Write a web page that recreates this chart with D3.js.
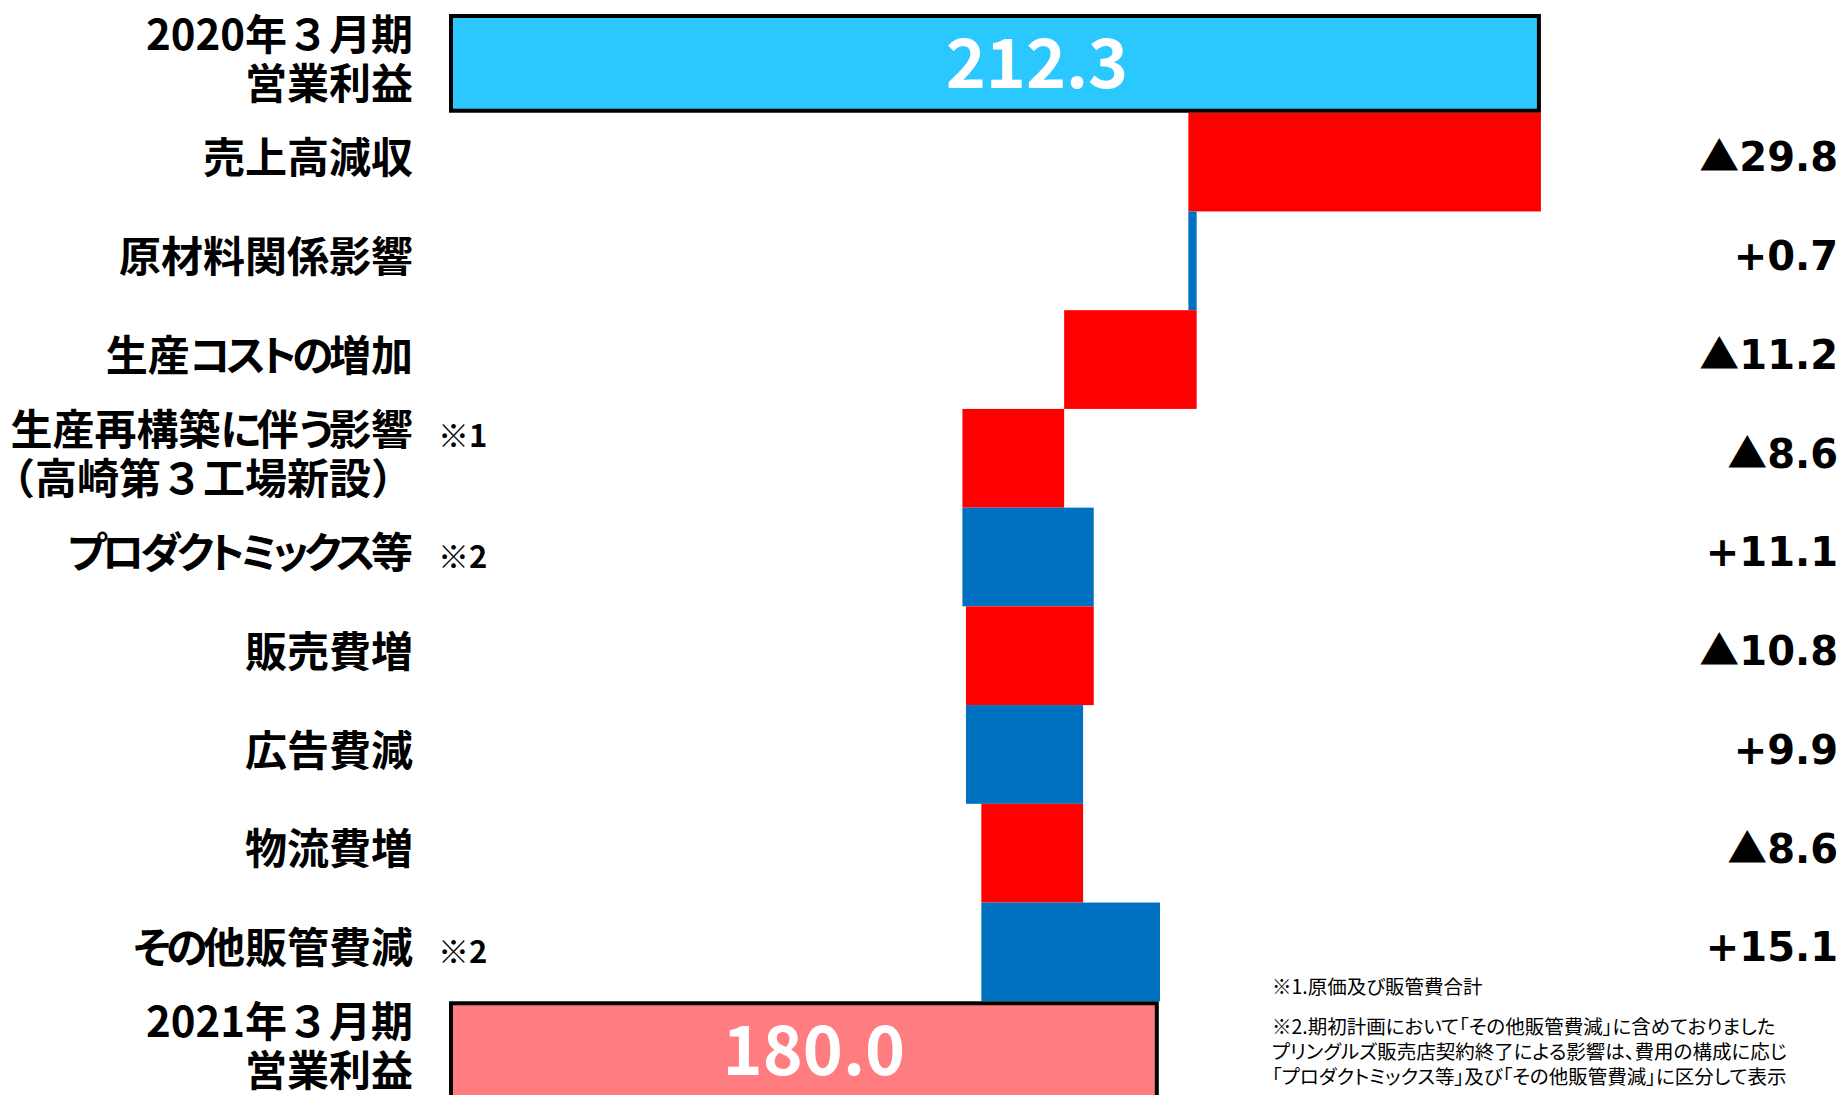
<!DOCTYPE html>
<html>
<head>
<meta charset="utf-8">
<script src="https://cdn.jsdelivr.net/npm/d3@7"></script>
<style>
  body { margin: 0; background: #fff; }
  svg { display: block; }
  .cat { font-family: "Noto Sans CJK JP", sans-serif; font-weight: 700; font-size: 42px; fill: #000; font-feature-settings: "palt"; }
  .cat .full { font-feature-settings: normal; }
  .cat .kana { letter-spacing: -4.5px; }
  .note { font-family: "Noto Sans CJK JP", sans-serif; font-weight: 700; font-size: 31px; fill: #000; }
  .delta { font-family: "DejaVu Sans", sans-serif; font-weight: 700; font-size: 40px; fill: #000; }
  .delta .tri { font-family: "Noto Sans CJK JP", sans-serif; }
  .total { font-family: "Noto Sans CJK JP", sans-serif; font-weight: 700; font-size: 68px; fill: #fff; }
  .foot { font-family: "Noto Sans CJK JP", sans-serif; font-size: 19.5px; fill: #000; font-feature-settings: "palt"; }
</style>
</head>
<body>
<svg id="chart" width="1842" height="1095"></svg>
<script>
var categories = [
  ["2020年３月期", "営業利益"],
  ["売上高減収"],
  ["原材料関係影響"],
  ["生産コストの増加"],
  ["生産再構築に伴う影響", "（高崎第３工場新設）"],
  ["プロダクトミックス等"],
  ["販売費増"],
  ["広告費減"],
  ["物流費増"],
  ["その他販管費減"],
  ["2021年３月期", "営業利益"]
];
var notes = [null, null, null, null, "※1", "※2", null, null, null, "※2", null];
var startValue = 212.3;
var endValue = 180.0;
var deltas = [-29.8, 0.7, -11.2, -8.6, 11.1, -10.8, 9.9, -8.6, 15.1];
var deltaLabels = ["▲29.8", "+0.7", "▲11.2", "▲8.6", "+11.1", "▲10.8", "+9.9", "▲8.6", "+15.1"];
var footnotes = [
  "※1.原価及び販管費合計",
  "※2.期初計画において「その他販管費減」に含めておりました",
  "プリングルズ販売店契約終了による影響は、費用の構成に応じ",
  "「プロダクトミックス等」及び「その他販管費減」に区分して表示"
];

var svg = d3.select("#chart");

var x = d3.scaleLinear().domain([120, 220]).range([449, 1632]);
var y = d3.scaleBand().domain(d3.range(categories.length)).range([14, 1100]).padding(0);

// waterfall steps
var steps = [];
var running = startValue;
deltas.forEach(function (d, i) {
  steps.push({ i: i + 1, from: running, to: running + d, d: d, label: deltaLabels[i] });
  running += d;
});

var totals = [
  { i: 0, value: startValue, fill: "#2BC8FF" },
  { i: categories.length - 1, value: endValue, fill: "#FF7C80" }
];

svg.append("g").selectAll("rect")
  .data(steps)
  .enter().append("rect")
  .attr("x", function (s) { return x(Math.min(s.from, s.to)); })
  .attr("y", function (s) { return y(s.i); })
  .attr("width", function (s) { return Math.abs(x(s.to) - x(s.from)); })
  .attr("height", y.bandwidth())
  .attr("fill", function (s) { return s.d < 0 ? "#FF0000" : "#0070C0"; });

svg.append("g").selectAll("rect")
  .data(totals)
  .enter().append("rect")
  .attr("x", x(120) + 2)
  .attr("y", function (t) { return y(t.i) + 2; })
  .attr("width", function (t) { return x(t.value) - x(120) - 4; })
  .attr("height", y.bandwidth() - 4)
  .attr("fill", function (t) { return t.fill; })
  .attr("stroke", "#000")
  .attr("stroke-width", 4);

svg.append("g").selectAll("text")
  .data(totals)
  .enter().append("text")
  .attr("class", "total")
  .attr("x", function (t) { return (x(120) + x(t.value)) / 2 + (t.i === 0 ? 42 : 10); })
  .attr("y", function (t) { return y(t.i) + y.bandwidth() / 2; })
  .attr("dy", "0.36em")
  .attr("text-anchor", "middle")
  .text(function (t) { return d3.format(".1f")(t.value); });

// split a line into runs of kana / other so kana can be set tighter
function runs(line) {
  var out = [];
  line.split("").forEach(function (ch) {
    var kana = /[\u3040-\u30ff]/.test(ch);
    var last = out[out.length - 1];
    if (last && last.kana === kana) { last.s += ch; } else { out.push({ s: ch, kana: kana }); }
  });
  return out;
}

// category labels
var labelX = 413;
var cats = svg.append("g").selectAll("text")
  .data(categories)
  .enter().append("text")
  .attr("class", "cat")
  .attr("text-anchor", "end")
  .attr("x", labelX)
  .attr("y", function (c, i) { return y(i) + y.bandwidth() / 2 - 4; });

cats.selectAll("tspan.line")
  .data(function (c) { return c.map(function (line, k) { return { line: line, k: k, n: c.length }; }); })
  .enter().append("tspan")
  .attr("class", function (l) { return /３/.test(l.line) ? "line full" : "line"; })
  .attr("x", labelX)
  .attr("dy", function (l) { return l.k === 0 ? (0.36 - (l.n - 1) * 0.58) + "em" : "1.16em"; })
  .selectAll("tspan")
  .data(function (l) { return runs(l.line); })
  .enter().append("tspan")
  .attr("class", function (r) { return r.kana ? "kana" : null; })
  .text(function (r) { return r.s; });

svg.append("g").selectAll("text")
  .data(notes.map(function (n, i) { return { n: n, i: i }; }).filter(function (d) { return d.n; }))
  .enter().append("text")
  .attr("class", "note")
  .attr("x", 438)
  .attr("y", function (d) {
    var lines = categories[d.i].length;
    return y(d.i) + y.bandwidth() / 2 - (lines - 1) * 22;
  })
  .attr("dy", "0.36em")
  .text(function (d) { return d.n; });

// delta values on the right
var deltaText = svg.append("g").selectAll("text")
  .data(steps)
  .enter().append("text")
  .attr("class", "delta")
  .attr("text-anchor", "end")
  .attr("x", 1838)
  .attr("y", function (s) { return y(s.i) + y.bandwidth() / 2 - 5; })
  .attr("dy", "0.36em");

deltaText.append("tspan")
  .attr("class", function (s) { return s.label[0] === "▲" ? "tri" : null; })
  .text(function (s) { return s.label[0]; });
deltaText.append("tspan")
  .text(function (s) { return s.label.slice(1); });

// footnotes
svg.append("g").selectAll("text")
  .data(footnotes)
  .enter().append("text")
  .attr("class", "foot")
  .attr("x", 1272)
  .attr("y", function (f, i) { return i === 0 ? 994 : 1034 + (i - 1) * 25; })
  .text(function (f) { return f; });
</script>
</body>
</html>
